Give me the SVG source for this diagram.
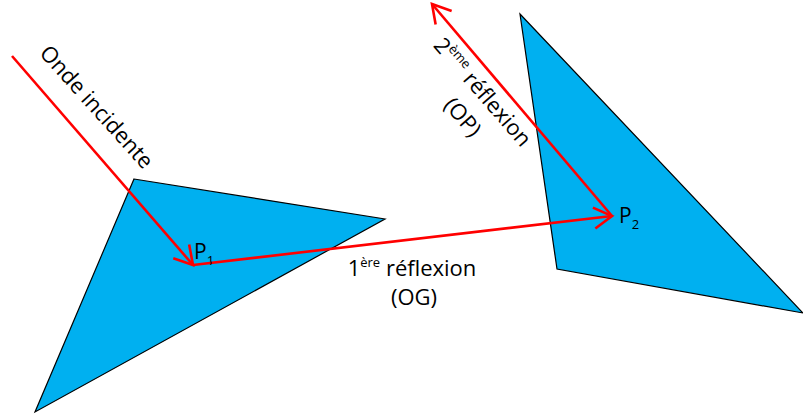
<svg xmlns="http://www.w3.org/2000/svg" width="803" height="417" viewBox="0 0 803 417">
<style>
.tri{fill:#00B0F0;stroke:#000;stroke-width:1.2;stroke-linejoin:miter}
.ray{fill:none;stroke:#FF0000;stroke-width:2.6;marker-end:url(#arr)}
.lbl{font-family:"Open Sans","Liberation Sans",sans-serif;font-size:21px;fill:#000}
.big{font-size:22px}
.sub{font-size:13px}
</style>
<defs>
<marker id="arr" markerUnits="userSpaceOnUse" orient="auto" markerWidth="30" markerHeight="30" refX="0" refY="0" viewBox="-22 -15 30 30" overflow="visible">
<path d="M -18,-10.5 L 0,0 L -18,10.5" fill="none" stroke="#FF0000" stroke-width="2.6" stroke-linejoin="miter"/>
</marker>
</defs>
<g id="prism1"><polygon class="tri" points="134,179 385,219 35,412"/></g>
<g id="prism2"><polygon class="tri" points="520,14 803,313 557,269"/></g>
<g id="connectors">
<path class="ray" d="M12,56 L193,265"/>
<path class="ray" d="M193,265 L612,216"/>
<path class="ray" d="M612,216 L432,4"/>
</g>
<g id="labels">
<text class="lbl big" transform="translate(91,112) rotate(48)" text-anchor="middle">Onde incidente</text>
<text class="lbl" x="194" y="259">P<tspan class="sub" dy="6">1</tspan></text>
<text class="lbl" x="619" y="223">P<tspan class="sub" dy="6">2</tspan></text>
<text class="lbl big" x="412" y="276" text-anchor="middle">1<tspan class="sub" dy="-9">ère</tspan><tspan dy="9"> réflexion</tspan></text>
<text class="lbl big" x="414" y="305" text-anchor="middle">(OG)</text>
<text class="lbl big" transform="translate(477,97) rotate(49)" text-anchor="middle">2<tspan class="sub" dy="-9">ème</tspan><tspan dy="9"> réflexion</tspan></text>
<text class="lbl big" transform="translate(457,122) rotate(49)" text-anchor="middle">(OP)</text>
</g>
</svg>
